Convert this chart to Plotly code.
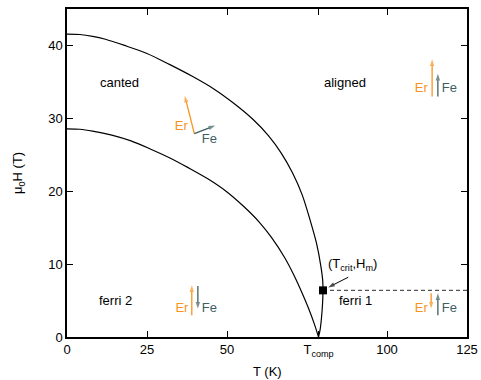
import plotly.graph_objects as go

# ---- data ----
upper_T = [0, 4, 8, 12, 18, 25, 32, 39, 46, 52, 58, 63, 67, 70.5, 73.5, 76, 78, 79.3, 79.9, 80.0, 79.85, 79.5, 79.1, 78.6]
upper_H = [41.55, 41.5, 41.25, 40.85, 40.0, 38.9, 37.4, 35.8, 34.0, 32.1, 29.9, 27.6, 25.2, 22.5, 19.5, 16.0, 12.8, 9.8, 7.8, 6.4, 4.5, 2.5, 1.0, 0.0]

lower_T = [0, 4, 8, 14, 20, 26, 32, 38, 44, 50, 55, 60, 64, 68, 71, 73.5, 75.5, 77.2, 78.6]
lower_H = [28.55, 28.5, 28.25, 27.7, 26.9, 25.8, 24.6, 23.2, 21.7, 19.9, 18.0, 15.8, 13.6, 10.9, 8.4, 6.0, 3.9, 1.9, 0.0]

T_comp = 78.6
T_crit, H_m = 80.0, 6.4
dash_T = [T_crit, 125]
dash_H = [H_m, H_m]

x_tickvals = [0, 25, 50, T_comp, 100, 125]
x_ticktext = ["0", "25", "50", "T<sub>comp</sub>", "100", "125"]
y_tickvals = [0, 10, 20, 30, 40]

region_labels = ["canted", "aligned", "ferri 2", "ferri 1"]
region_T = [16.4, 86.8, 15.3, 90.1]
region_H = [34.9, 34.9, 4.95, 4.95]

# spin arrows: (tail T, tail H, head T, head H)
er_arrows = [(39.8, 27.9, 36.8, 33.1), (114.1, 33.0, 114.1, 38.1), (39.0, 3.0, 39.0, 7.1), (113.8, 6.0, 113.8, 3.9)]
fe_arrows = [(39.8, 27.9, 46.3, 29.0), (115.9, 33.0, 115.9, 36.1), (40.9, 7.0, 40.9, 3.9), (115.9, 3.0, 115.9, 6.0)]
er_text_T = [35.7, 110.7, 35.9, 110.7]
er_text_H = [28.9, 34.0, 3.9, 3.9]
fe_text_T = [44.5, 119.5, 44.5, 119.5]
fe_text_H = [27.0, 34.0, 3.9, 3.9]

crit_label_pos = (81.0, 10.0)
crit_arrow = (87.9, 8.2, 81.6, 6.8)

x_title = "T (K)"
y_title = "\u03bc<sub>0</sub>H (T)"

ER_C = "#f7941d"
FE_C = "#3d5f5f"
FONT = "Liberation Sans, Arial, sans-serif"

fig = go.Figure()
fig.add_trace(go.Scatter(x=upper_T, y=upper_H, mode="lines", line=dict(color="black", width=1.2, shape="spline", smoothing=0.8), showlegend=False, hoverinfo="skip"))
fig.add_trace(go.Scatter(x=lower_T, y=lower_H, mode="lines", line=dict(color="black", width=1.2, shape="spline", smoothing=0.8), showlegend=False, hoverinfo="skip"))
fig.add_trace(go.Scatter(x=dash_T, y=dash_H, mode="lines", line=dict(color="#555555", width=1.2, dash="4px,3px"), showlegend=False, hoverinfo="skip"))
fig.add_trace(go.Scatter(x=[T_crit], y=[H_m], mode="markers", marker=dict(symbol="square", size=8, color="black"), showlegend=False, hoverinfo="skip"))


def add_arrow(tail_t, tail_h, head_t, head_h, color, width=1.3, size=7):
    fig.add_trace(go.Scatter(
        x=[tail_t, head_t], y=[tail_h, head_h], mode="lines+markers",
        line=dict(color=color, width=width),
        marker=dict(symbol=["circle", "arrow"], size=[0, size], color=color, angleref="previous", line=dict(width=0)),
        showlegend=False, hoverinfo="skip"))


for a in er_arrows:
    add_arrow(*a, ER_C)
for a in fe_arrows:
    add_arrow(*a, FE_C)
add_arrow(*crit_arrow, "black", width=1.0, size=7)

fig.add_trace(go.Scatter(x=er_text_T, y=er_text_H, mode="text", text=["Er"] * len(er_text_T),
                         textfont=dict(size=13, color=ER_C, family=FONT), textposition="middle center",
                         showlegend=False, hoverinfo="skip"))
fig.add_trace(go.Scatter(x=fe_text_T, y=fe_text_H, mode="text", text=["Fe"] * len(fe_text_T),
                         textfont=dict(size=13, color=FE_C, family=FONT), textposition="middle center",
                         showlegend=False, hoverinfo="skip"))

ann = []
for t, x, y in zip(region_labels, region_T, region_H):
    ann.append(dict(x=x, y=y, text=t, showarrow=False, font=dict(size=13, color="black", family=FONT), xanchor="center", yanchor="middle"))
ann.append(dict(x=crit_label_pos[0], y=crit_label_pos[1], text="(T<sub>crit</sub>,H<sub>m</sub>)", showarrow=False,
                font=dict(size=13, color="black", family=FONT), xanchor="left", yanchor="middle"))
# axis titles placed in paper coordinates
ann.append(dict(xref="paper", yref="paper", x=0.5, y=-0.104, text=x_title, showarrow=False,
                font=dict(size=13, color="black", family=FONT), xanchor="center", yanchor="middle"))
ann.append(dict(xref="paper", yref="paper", x=-0.1225, y=0.5, text=y_title, showarrow=False, textangle=-90,
                font=dict(size=13, color="black", family=FONT), xanchor="center", yanchor="middle"))

fig.update_layout(
    width=481, height=380,
    margin=dict(l=67, r=14, t=9, b=43, autoexpand=False),
    plot_bgcolor="white", paper_bgcolor="white",
    font=dict(family=FONT, size=13, color="black"),
    annotations=ann,
    xaxis=dict(range=[0, 125], tickvals=x_tickvals, ticktext=x_ticktext, ticks="inside", ticklen=6, tickcolor="black",
               showline=True, linecolor="black", linewidth=1.5, mirror="ticks", showgrid=False, zeroline=False,
               automargin=False),
    yaxis=dict(range=[0, 45], tickvals=y_tickvals, ticks="inside", ticklen=6, tickcolor="black",
               showline=True, linecolor="black", linewidth=1.5, mirror="ticks", showgrid=False, zeroline=False,
               automargin=False),
)

fig.write_html("out.html")
